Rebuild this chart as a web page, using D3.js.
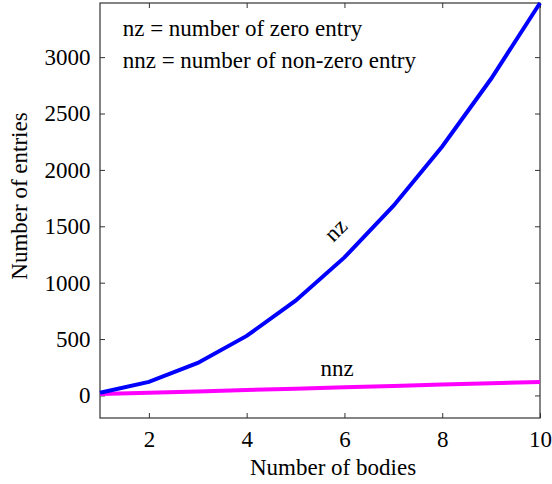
<!DOCTYPE html>
<html>
<head>
<meta charset="utf-8">
<script src="https://cdn.jsdelivr.net/npm/d3@7"></script>
<style>
  body { margin: 0; background: #fff; }
  svg text { font-family: 'Liberation Serif', 'DejaVu Serif', serif; }
</style>
</head>
<body>
<svg width="552" height="484"></svg>
<script>
// data
var bodies = [1, 2, 3, 4, 5, 6, 7, 8, 9, 10];
var nzValues = [24, 120, 288, 528, 840, 1224, 1680, 2208, 2808, 3480];
var nnzValues = [12, 24, 36, 48, 60, 72, 84, 96, 108, 120];
var xTicks = [2, 4, 6, 8, 10];
var yTicks = [0, 500, 1000, 1500, 2000, 2500, 3000];

var svg = d3.select('svg');

var padding = { t: 3, r: 12, b: 66, l: 100 };
var chartWidth = 552 - padding.l - padding.r;
var chartHeight = 484 - padding.t - padding.b;

var chartG = svg.append('g')
    .attr('transform', `translate(${padding.l}, ${padding.t})`);

var xScale = d3.scaleLinear().domain([1, 10]).range([0, chartWidth]);
var yScale = d3.scaleLinear().domain([-200, 3480]).range([chartHeight, 0]);

// axes: ticks point inward, mirrored on all four sides
function styleAxis(g) {
    g.attr('font-family', null).attr('font-size', 23);
    g.select('.domain').remove();
    g.selectAll('line').attr('stroke', '#333');
    g.selectAll('text').attr('fill', '#000');
}

chartG.append('g')
    .attr('transform', 'translate(0,' + chartHeight + ')')
    .call(d3.axisBottom(xScale).tickValues(xTicks).tickSize(-5).tickPadding(13).tickFormat(d3.format('d')))
    .call(styleAxis);

chartG.append('g')
    .call(d3.axisTop(xScale).tickValues(xTicks).tickSize(-5).tickFormat(''))
    .call(styleAxis);

chartG.append('g')
    .call(d3.axisLeft(yScale).tickValues(yTicks).tickSize(-5).tickPadding(9.5).tickFormat(d3.format('d')))
    .call(styleAxis);

chartG.append('g')
    .attr('transform', 'translate(' + chartWidth + ',0)')
    .call(d3.axisRight(yScale).tickValues(yTicks).tickSize(-5).tickFormat(''))
    .call(styleAxis);

chartG.append('rect')
    .attr('width', chartWidth)
    .attr('height', chartHeight)
    .attr('fill', 'none')
    .attr('stroke', '#333')
    .attr('stroke-width', 1.2);

// lines
var line = d3.line()
    .x(function(d, i) { return xScale(bodies[i]); })
    .y(function(d) { return yScale(d); });

chartG.append('path')
    .datum(nnzValues)
    .attr('d', line)
    .attr('fill', 'none')
    .attr('stroke', '#ff00ff')
    .attr('stroke-width', 4);

chartG.append('path')
    .datum(nzValues)
    .attr('d', line)
    .attr('fill', 'none')
    .attr('stroke', '#0000ff')
    .attr('stroke-width', 4);

// annotations
function label(sel, size) {
    return sel.attr('font-size', size).attr('fill', '#000');
}

chartG.append('text')
    .attr('x', 22.7).attr('y', 32.7)
    .call(label, 23)
    .text('nz = number of zero entry');

chartG.append('text')
    .attr('x', 22.7).attr('y', 65.3)
    .call(label, 23)
    .text('nnz = number of non-zero entry');

chartG.append('text')
    .attr('transform', 'translate(' + xScale(5.93) + ',' + yScale(1420) + ') rotate(-45)')
    .attr('text-anchor', 'middle')
    .call(label, 23)
    .text('nz');

chartG.append('text')
    .attr('x', xScale(5.85)).attr('y', yScale(172))
    .attr('text-anchor', 'middle')
    .call(label, 23)
    .text('nnz');

// axis titles
svg.append('text')
    .attr('x', 250)
    .attr('y', 475)
    .call(label, 23)
    .text('Number of bodies');

svg.append('text')
    .attr('transform', 'translate(27,196) rotate(-90)')
    .attr('text-anchor', 'middle')
    .call(label, 23)
    .text('Number of entries');
</script>
</body>
</html>
